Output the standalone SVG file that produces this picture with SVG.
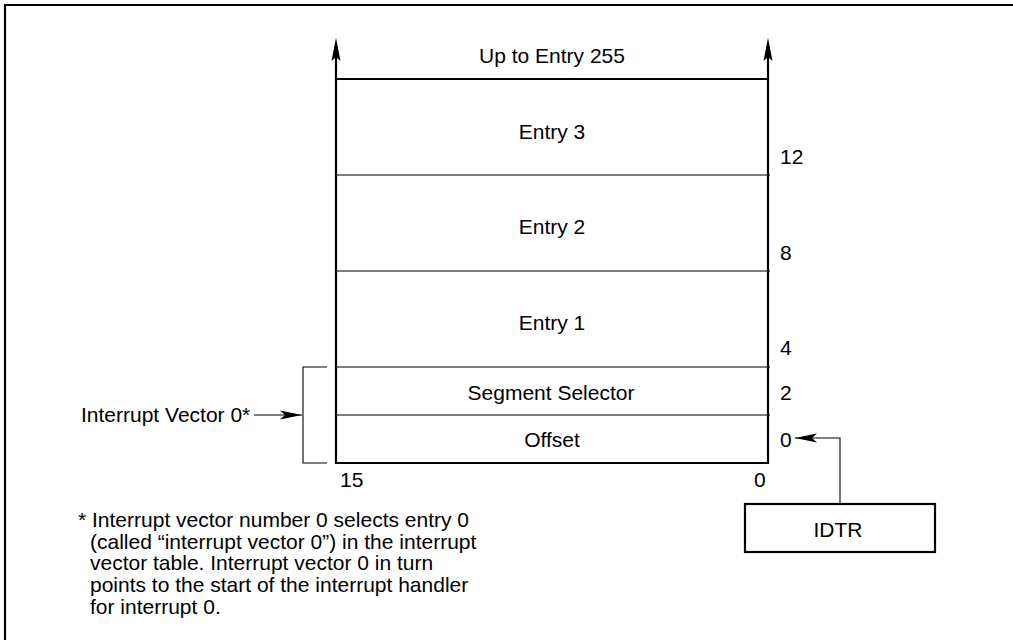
<svg xmlns="http://www.w3.org/2000/svg" width="1013" height="640" viewBox="0 0 1013 640">
<defs>
<style>
text{font-family:"Liberation Sans",Arial,sans-serif;font-size:21px;fill:#000}
.thick{stroke:#000;stroke-width:2.2;fill:none}
.thin{stroke:#000;stroke-width:1.1;fill:none}
.mid{text-anchor:middle}
</style>
<marker id="ah" markerWidth="22" markerHeight="10" refX="22" refY="5" orient="auto" markerUnits="userSpaceOnUse">
<path d="M0,0.5 L22,5 L0,9.5 L5,5 Z" fill="#000"/>
</marker>
</defs>
<rect x="0" y="0" width="1013" height="640" fill="#fff"/>
<path class="thick" d="M5,640 L5,5 L1013,5"/>

<g id="table">
<path class="thick" d="M336,463 L336,44"/>
<path class="thick" d="M768,463 L768,44"/>
<path class="thick" d="M335,463 L769,463"/>
<path class="thick" d="M336,79 L768,79"/>
<path d="M336,38 L331.5,61 L336,57 L340.5,61 Z" fill="#000"/>
<path d="M768,38 L763.5,61 L768,57 L772.5,61 Z" fill="#000"/>
<path class="thin" d="M336,175 L770,175 M336,271 L770,271 M336,367 L770,367 M336,415 L770,415"/>
</g>

<g id="labels">
<text class="mid" x="552" y="63">Up to Entry 255</text>
<text class="mid" x="552" y="139">Entry 3</text>
<text class="mid" x="552" y="234">Entry 2</text>
<text class="mid" x="552" y="330">Entry 1</text>
<text class="mid" x="551" y="400">Segment Selector</text>
<text class="mid" x="552" y="447">Offset</text>
<text x="780" y="164">12</text>
<text x="780" y="260">8</text>
<text x="780" y="355">4</text>
<text x="780" y="400">2</text>
<text x="780" y="447">0</text>
<text x="340" y="487">15</text>
<text x="754" y="487">0</text>
</g>

<g id="bracket">
<path class="thin" d="M327,367 L303,367 L303,463 L327,463"/>
<text x="81" y="422">Interrupt Vector 0*</text>
</g>

<g id="idtr">
<rect class="thick" x="745" y="504" width="190" height="48"/>
<text class="mid" x="838" y="537">IDTR</text>
</g>

<g id="connectors">
<path class="thin" d="M254,415 L302,415" marker-end="url(#ah)"/>
<path class="thin" d="M840,504 L840,438 L795,438" marker-end="url(#ah)"/>
</g>

<g id="note">
<text x="78" y="527">* Interrupt vector number 0 selects entry 0</text>
<text x="90" y="549">(called “interrupt vector 0”) in the interrupt</text>
<text x="90" y="570">vector table. Interrupt vector 0 in turn</text>
<text x="90" y="592">points to the start of the interrupt handler</text>
<text x="90" y="614">for interrupt 0.</text>
</g>
</svg>
